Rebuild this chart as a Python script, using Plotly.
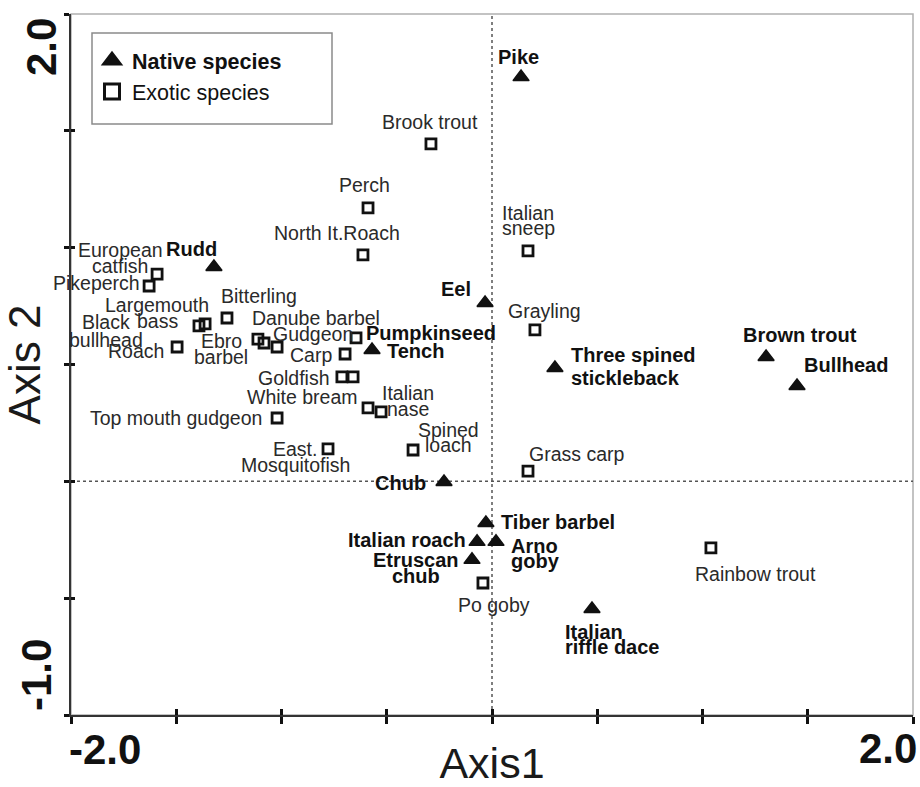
import numpy as np
import plotly.graph_objects as go

# ------------------------------------------------------------------ data
native_names = ["Pike", "Rudd", "Eel", "Tench", "Brown trout", "Bullhead",
                "Three spined\nstickleback", "Chub", "Tiber barbel",
                "Italian roach", "Arno\ngoby", "Etruscan\nchub",
                "Italian\nriffle dace"]
native_x = [0.138, -1.321, -0.033, -0.570, 1.302, 1.449, 0.299, -0.228,
            -0.029, -0.071, 0.019, -0.095, 0.475]
native_y = [1.730, 0.917, 0.763, 0.562, 0.532, 0.408, 0.485, -0.003,
            -0.178, -0.259, -0.259, -0.336, -0.546]

exotic_names = ["Brook trout", "Perch", "North It.Roach", "Italian\nsneep",
                "European\ncatfish", "Pikeperch", "Bitterling",
                "Largemouth\nbass", "Black\nbullhead", "Roach",
                "Danube barbel", "Ebro\nbarbel", "Gudgeon", "Pumpkinseed",
                "Carp", "Goldfish", "", "White bream", "Italian\nnase",
                "Top mouth gudgeon", "East.\nMosquitofish", "Spined\nloach",
                "Grayling", "Grass carp", "Po goby", "Rainbow trout"]
exotic_x = [-0.290, -0.589, -0.613, 0.171, -1.591, -1.629, -1.259, -1.363,
            -1.392, -1.496, -1.112, -1.083, -1.021, -0.646, -0.698, -0.713,
            -0.660, -0.589, -0.527, -1.021, -0.779, -0.375, 0.204, 0.171,
            -0.043, 1.040]
exotic_y = [1.444, 1.170, 0.969, 0.986, 0.887, 0.836, 0.699, 0.674, 0.665,
            0.575, 0.609, 0.592, 0.575, 0.614, 0.545, 0.447, 0.447, 0.314,
            0.297, 0.271, 0.139, 0.134, 0.648, 0.044, -0.435, -0.285]

legend_labels = ["Native species", "Exotic species"]
axis_titles = ["Axis1", "Axis 2"]
x_range = [-2.0, 2.0]
y_range = [-1.0, 2.0]
tick_step = 0.5
x_tick_text = ["-2.0", "2.0"]
y_tick_text = ["-1.0", "2.0"]

# ------------------------------------------------------------------ styles
FONT = "Liberation Sans, Arial, sans-serif"
W, H = 920, 787
ML, MR, MT, MB = 71, 7, 14, 72
PW, PH = W - ML - MR, H - MT - MB

# label placement: (dx px, dy px of first line (down +), anchor, line gap)
LABEL_POS = {
    "Pike": (-3, -20, "center", 16),
    "Rudd": (-22, -18, "center", 16),
    "Eel": (-12, -14, "right", 16),
    "Tench": (13, 1, "left", 16),
    "Brown trout": (34, -22, "center", 16),
    "Bullhead": (5, -21, "left", 16),
    "Three spined\nstickleback": (14, -13, "left", 23),
    "Chub": (-16, 1, "right", 16),
    "Tiber barbel": (13, -1, "left", 16),
    "Italian roach": (-9, -2, "right", 16),
    "Arno\ngoby": (13, 4, "left", 15),
    "Etruscan\nchub": (-56, 0, "center", 16),
    "Italian\nriffle dace": (-29, 23, "left", 15),
    "Brook trout": (-1, -22, "center", 16),
    "Perch": (-4, -23, "center", 16),
    "North It.Roach": (-26, -22, "center", 16),
    "Italian\nsneep": (0, -38, "center", 15),
    "European\ncatfish": (-37, -24, "center", 16),
    "Pikeperch": (-7, -3, "right", 16),
    "Bitterling": (32, -22, "center", 16),
    "Largemouth\nbass": (-48, -19, "center", 16),
    "Black\nbullhead": (-93, -4, "center", 18),
    "Roach": (-11, 4, "right", 16),
    "Danube barbel": (58, -21, "center", 16),
    "Ebro\nbarbel": (-43, -2, "center", 16),
    "Gudgeon": (36, -13, "center", 16),
    "Pumpkinseed": (8, -5, "left", 16),
    "Carp": (-11, 1, "right", 16),
    "Goldfish": (-10, 1, "right", 16),
    "White bream": (-8, -11, "right", 16),
    "Italian\nnase": (27, -19, "center", 16),
    "Top mouth gudgeon": (-13, 0, "right", 16),
    "East.\nMosquitofish": (-33, 0, "center", 16),
    "Spined\nloach": (35, -20, "center", 15),
    "Grayling": (10, -19, "center", 16),
    "Grass carp": (-1, -17, "left", 16),
    "Po goby": (11, 22, "center", 16),
    "Rainbow trout": (45, 26, "center", 16),
}
BOLD_EXOTIC = {"Pumpkinseed"}

fig = go.Figure()

# data traces
fig.add_trace(go.Scatter(
    x=native_x, y=native_y, mode="markers", showlegend=False,
    marker=dict(symbol="triangle-up", size=14, color="#111",
                line=dict(width=1.5, color="#111")),
    hovertext=native_names, hoverinfo="text"))
fig.add_trace(go.Scatter(
    x=exotic_x, y=exotic_y, mode="markers", showlegend=False,
    marker=dict(symbol="square-open", size=10, color="#111",
                line=dict(width=2.8)),
    hovertext=exotic_names, hoverinfo="text"))

# legend-only traces
fig.add_trace(go.Scatter(
    x=[None], y=[None], mode="markers", name="<b>" + legend_labels[0] + "</b>",
    marker=dict(symbol="triangle-up", size=16, color="#111",
                line=dict(width=2, color="#111"))))
fig.add_trace(go.Scatter(
    x=[None], y=[None], mode="markers", name=legend_labels[1],
    marker=dict(symbol="square-open", size=15, color="#111",
                line=dict(width=3))))

annotations = []


def add_labels(names, xs, ys, bold_all, bold_set=()):
    for name, x, y in zip(names, xs, ys):
        if not name:
            continue
        dx, dy, anchor, gap = LABEL_POS[name]
        bold = bold_all or name in bold_set
        for i, line in enumerate(name.split("\n")):
            annotations.append(dict(
                x=x, y=y, xref="x", yref="y", showarrow=False,
                text=("<b>%s</b>" % line) if bold else line,
                xanchor=anchor, yanchor="middle",
                xshift=dx, yshift=-(dy + i * gap),
                font=dict(family=FONT, size=20 if bold else 19.5,
                          color="#111" if bold else "#2a2a2a")))


add_labels(native_names, native_x, native_y, True)
add_labels(exotic_names, exotic_x, exotic_y, False, BOLD_EXOTIC)

# end tick labels
TF = dict(family=FONT, size=42, color="#111")
annotations += [
    dict(x=x_range[0], y=0, xref="x", yref="paper", showarrow=False,
         text="<b>%s</b>" % x_tick_text[0], xanchor="left", yanchor="middle",
         xshift=-4, yshift=-34, font=TF),
    dict(x=x_range[1], y=0, xref="x", yref="paper", showarrow=False,
         text="<b>%s</b>" % x_tick_text[1], xanchor="right", yanchor="middle",
         xshift=6, yshift=-33, font=TF),
    dict(x=0, y=y_range[1], xref="paper", yref="y", showarrow=False,
         text="<b>%s</b>" % y_tick_text[1], textangle=-90,
         xanchor="center", yanchor="middle", xshift=-30, yshift=-33, font=TF),
    dict(x=0, y=y_range[0], xref="paper", yref="y", showarrow=False,
         text="<b>%s</b>" % y_tick_text[0], textangle=-90,
         xanchor="center", yanchor="middle", xshift=-35, yshift=40, font=TF),
]

xt = np.arange(x_range[0], x_range[1] + 1e-9, tick_step)
yt = np.arange(y_range[0], y_range[1] + 1e-9, tick_step)

axis_common = dict(showgrid=False, zeroline=False, showticklabels=False,
                   tickcolor="#111", tickwidth=2.5)

fig.update_layout(
    width=W, height=H,
    margin=dict(l=ML, r=MR, t=MT, b=MB, pad=0),
    paper_bgcolor="white", plot_bgcolor="white",
    font=dict(family=FONT, color="#222"),
    xaxis=dict(range=x_range, tickvals=xt, ticks="outside", ticklen=7,
               showline=True, linecolor="#333", linewidth=1.5,
               title=dict(text=axis_titles[0], standoff=26,
                          font=dict(family=FONT, size=43, color="#1a1a1a")),
               **axis_common),
    yaxis=dict(range=y_range, tickvals=yt, ticks="outside", ticklen=5,
               showline=True, linecolor="#333", linewidth=1.5,
               title=dict(text=axis_titles[1], standoff=12,
                          font=dict(family=FONT, size=44, color="#1a1a1a")),
               **axis_common),
    xaxis2=dict(range=x_range, overlaying="x", matches="x", side="bottom",
                anchor="y", tickvals=xt, ticks="inside", ticklen=6,
                showline=False, **axis_common),
    yaxis2=dict(range=y_range, overlaying="y", matches="y", side="left",
                anchor="x", tickvals=yt, ticks="inside", ticklen=4,
                showline=False, **axis_common),
    showlegend=True,
    legend=dict(x=(92 - ML) / PW, y=(H - MB - 40) / PH, xanchor="left",
                yanchor="top", bgcolor="rgba(0,0,0,0)", borderwidth=0,
                font=dict(family=FONT, size=21.5, color="#111"),
                tracegroupgap=0, itemclick=False),
    shapes=[
        dict(type="rect", xref="paper", yref="paper", x0=0, x1=1, y0=0, y1=1,
             line=dict(color="#b0b0b0", width=1.5), layer="below"),
        dict(type="line", xref="x", yref="paper", x0=0, x1=0, y0=0, y1=1,
             line=dict(color="#555", width=1.5, dash="dot"), layer="below"),
        dict(type="line", xref="paper", yref="y", x0=0, x1=1, y0=0, y1=0,
             line=dict(color="#555", width=1.5, dash="dot"), layer="below"),
        dict(type="rect", xref="paper", yref="paper",
             x0=(92 - ML) / PW, x1=(332 - ML) / PW,
             y0=(H - MB - 124) / PH, y1=(H - MB - 33) / PH,
             line=dict(color="#8a8a8a", width=1.5), layer="below"),
    ],
    annotations=annotations,
)

# dummy trace so overlay axes are drawn
fig.add_trace(go.Scatter(x=[None], y=[None], xaxis="x2", yaxis="y2",
                         showlegend=False, hoverinfo="skip"))

fig.write_html("out.html")
